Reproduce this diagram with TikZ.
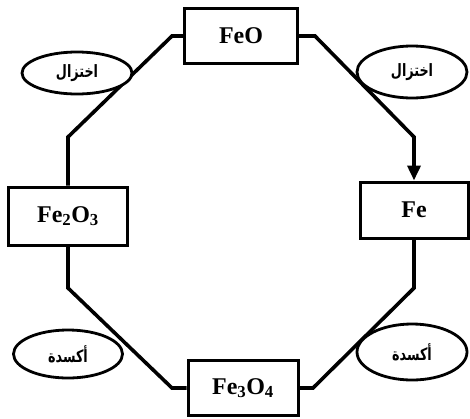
\documentclass[tikz,border=0pt]{standalone}
\usepackage{fontspec}
\setmainfont{Liberation Serif}
\newfontfamily\arabicfont[Script=Arabic, FakeStretch=0.75]{DejaVu Sans}
\TeXXeTstate=1
\usetikzlibrary{positioning, arrows.meta, shapes.geometric}

\begin{document}
\begin{tikzpicture}[
    x=1pt, y=-1pt,
    compound/.style={rectangle, draw, line width=3pt, fill=white, font=\fontsize{24}{26}\selectfont\bfseries, inner sep=0pt},
    reaction/.style={ellipse, draw, line width=2.8pt, fill=white, font=\arabicfont\fontsize{17}{19}\selectfont\bfseries, inner sep=0pt},
    link/.style={line width=3.6pt, miter limit=10},
    arrow/.style={link, -{Stealth[length=15pt, width=13pt, inset=0pt]}},
]
\useasboundingbox (0,0) rectangle (470,418);

% Compounds
\node[compound, minimum width=113pt, minimum height=55pt] (feo) at (241, 36) {FeO};
\node[compound, minimum width=108pt, minimum height=56pt] (fe) at (414, 210) {Fe};
\node[compound, minimum width=119pt, minimum height=58pt] (fe2o3) at (68, 216) {Fe$_\mathbf{2}$O$_\mathbf{3}$};
\node[compound, minimum width=110pt, minimum height=55pt] (fe3o4) at (243, 388) {Fe$_\mathbf{3}$O$_\mathbf{4}$};

% Corners of the cycle
\coordinate (tl1) at (172, 36);
\coordinate (tl2) at (68, 137);
\coordinate (bl1) at (68, 288);
\coordinate (bl2) at (172, 388);
\coordinate (br1) at (313, 388);
\coordinate (br2) at (414, 288);
\coordinate (tr1) at (315, 36);
\coordinate (tr2) at (414, 137);

% Cycle
\draw[link] (feo.west) -- (tl1) -- (tl2) -- (fe2o3.north);
\draw[link] (fe2o3.south) -- (bl1) -- (bl2) -- (fe3o4.west);
\draw[link] (fe3o4.east) -- (br1) -- (br2) -- (fe.south);
\draw[arrow] (feo.east) -- (tr1) -- (tr2) -- (fe.north);

% Reaction labels
\node[reaction, minimum width=110pt, minimum height=42pt] (red1) at (77, 73) {\beginR اختزال\endR};
\node[reaction, minimum width=110pt, minimum height=52pt] (red2) at (412, 72) {\beginR اختزال\endR};
\node[reaction, minimum width=109pt, minimum height=48pt] (ox1) at (68, 354) {\beginR أكسدة\endR};
\node[reaction, minimum width=110pt, minimum height=56pt] (ox2) at (412, 352) {\beginR أكسدة\endR};

\end{tikzpicture}
\end{document}
